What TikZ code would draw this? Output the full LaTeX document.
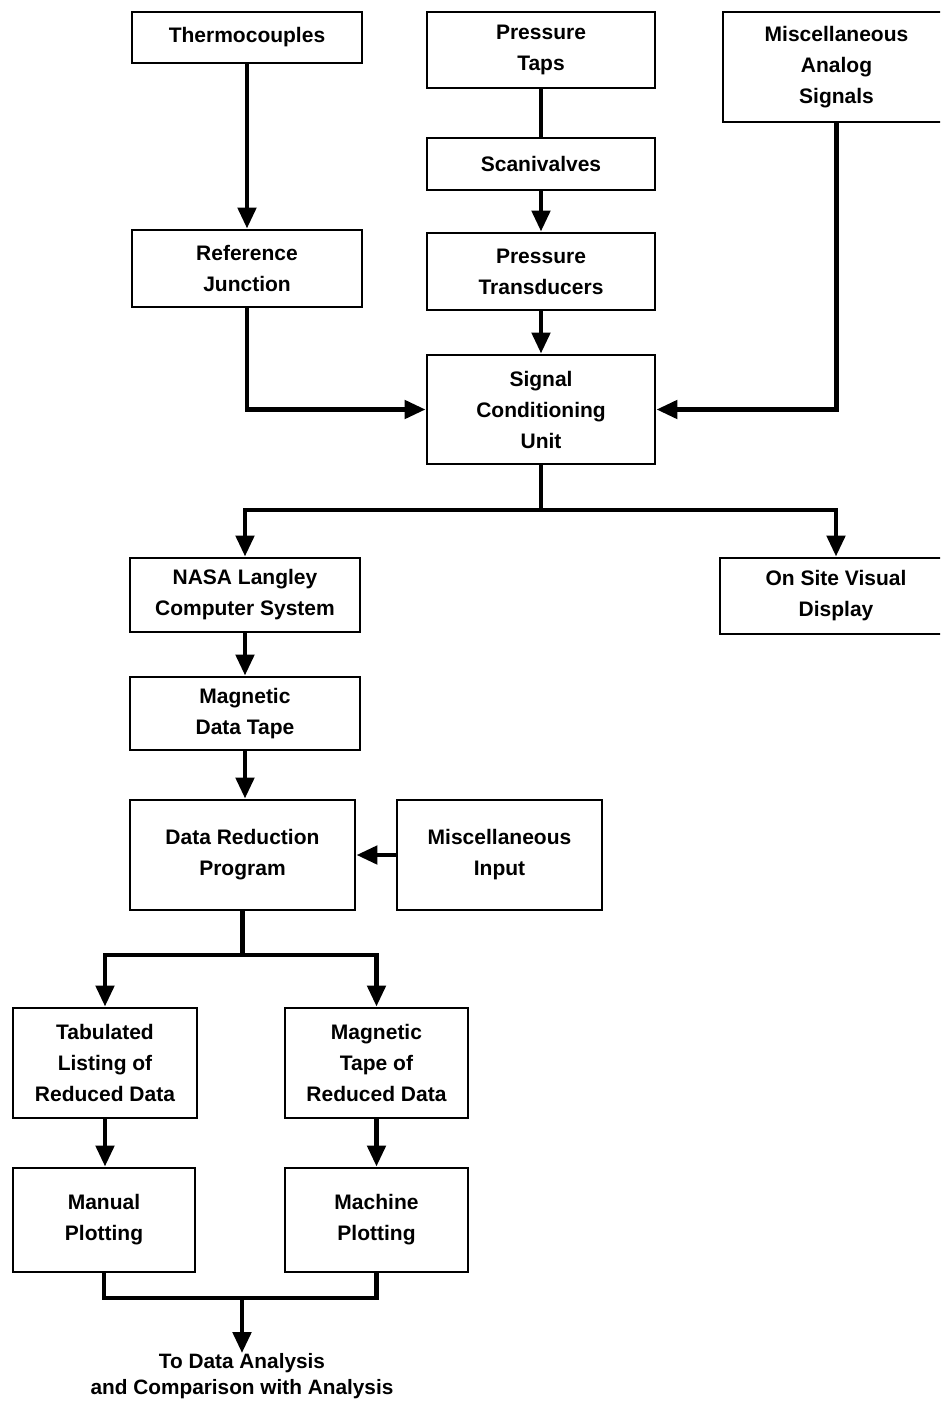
\documentclass[tikz,border=0pt]{standalone}
\usepackage{fontspec}
\setmainfont{Liberation Sans}
\usetikzlibrary{arrows.meta}
\tikzset{
  box/.style={draw, line width=2.8pt, inner sep=0pt, align=center,
    font=\fontsize{21}{31}\selectfont\bfseries},
  link/.style={line width=4.8pt},
  arr/.style={line width=4.8pt, -{Triangle[width=18pt,length=21pt]}},
}
\begin{document}
\begin{tikzpicture}[x=1pt,y=-1pt]
\useasboundingbox (0,0) rectangle (940,1403);
\clip (0,0) rectangle (940,1403);
% top row
\node[box, minimum width=230pt, minimum height=51pt] (thermo) at (247,37.5) {Thermocouples};
\node[box, minimum width=228pt, minimum height=76pt] (ptaps) at (541,50) {Pressure\\Taps};
\node[box, minimum width=227pt, minimum height=110pt] (misca) at (836.5,67) {Miscellaneous\\Analog\\Signals};
\node[box, minimum width=228pt, minimum height=52pt] (scani) at (541,164) {Scanivalves};
\node[box, minimum width=230pt, minimum height=77pt] (refj) at (247,268.5) {Reference\\Junction};
\node[box, minimum width=228pt, minimum height=77pt] (ptrans) at (541,271.5) {Pressure\\Transducers};
\node[box, minimum width=228pt, minimum height=109pt] (scu) at (541,409.5) {Signal\\Conditioning\\Unit};
\node[box, minimum width=230pt, minimum height=74pt] (nasa) at (245,595) {NASA Langley\\Computer System};
\node[box, minimum width=232pt, minimum height=76pt] (onsite) at (836,596) {On Site Visual\\Display};
\node[box, minimum width=230pt, minimum height=73pt] (mdt) at (245,713.5) {Magnetic\\Data Tape};
\node[box, minimum width=225pt, minimum height=110pt] (drp) at (242.5,855) {Data Reduction\\Program};
\node[box, minimum width=205pt, minimum height=110pt] (mi) at (499.5,855) {Miscellaneous\\Input};
\node[box, minimum width=184pt, minimum height=110pt] (tab) at (105,1063) {Tabulated\\Listing of\\Reduced Data};
\node[box, minimum width=183pt, minimum height=110pt] (mtr) at (376.5,1063) {Magnetic\\Tape of\\Reduced Data};
\node[box, minimum width=182pt, minimum height=104pt] (man) at (104,1220) {Manual\\Plotting};
\node[box, minimum width=183pt, minimum height=104pt] (mach) at (376.5,1220) {Machine\\Plotting};
\node[inner sep=0pt, align=center, font=\fontsize{20.8}{26}\selectfont\bfseries] (out) at (242,1376)
  {To Data Analysis\\and Comparison with Analysis};
% junctions
\coordinate (b1) at (541,510);
\coordinate (b2) at (242.5,955);
\coordinate (b3) at (242,1298);
% connectors
\draw[arr] (thermo) -- (refj);
\draw[link] (ptaps) -- (scani);
\draw[arr] (scani) -- (ptrans);
\draw[arr] (ptrans) -- (scu);
\draw[arr] (refj.south) |- (scu.west);
\draw[arr] (misca.south) |- (scu.east);
\draw[link] (scu.south) -- (b1);
\draw[arr] (b1) -| (nasa.north);
\draw[arr] (b1) -| (onsite.north);
\draw[arr] (nasa) -- (mdt);
\draw[arr] (mdt.south) -- (mdt.south |- drp.north);
\draw[arr] (mi) -- (drp);
\draw[link] (drp.south) -- (b2);
\draw[arr] (b2) -| (tab.north);
\draw[arr] (b2) -| (mtr.north);
\draw[arr] (tab.south) -- (tab.south |- man.north);
\draw[arr] (mtr) -- (mach);
\draw[link] (man.south) |- (b3) -| (mach.south);
\draw[arr] (b3) -- (out.north);
\end{tikzpicture}
\end{document}
